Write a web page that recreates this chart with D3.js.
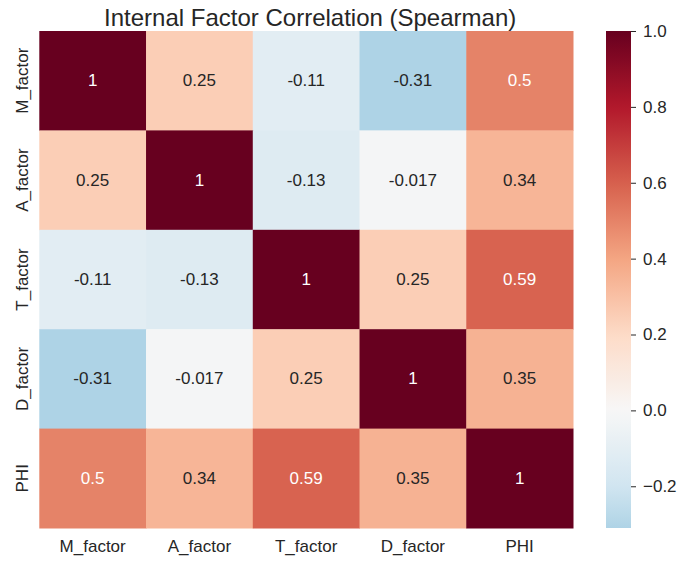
<!DOCTYPE html>
<html>
<head>
<meta charset="utf-8">
<script src="https://cdn.jsdelivr.net/npm/d3@7"></script>
<style>
  html, body { margin: 0; padding: 0; background: #fff; }
  svg { display: block; font-family: "Liberation Sans", Arial, sans-serif; }
</style>
</head>
<body>
<svg id="chart" width="678" height="561"></svg>
<script>
const labels = ["M_factor", "A_factor", "T_factor", "D_factor", "PHI"];
const rowM = [1, 0.25, -0.11, -0.31, 0.5];
const rowA = [0.25, 1, -0.13, -0.017, 0.34];
const rowT = [-0.11, -0.13, 1, 0.25, 0.59];
const rowD = [-0.31, -0.017, 0.25, 1, 0.35];
const rowP = [0.5, 0.34, 0.59, 0.35, 1];
const matrix = [rowM, rowA, rowT, rowD, rowP];
const cbarTicks = [-0.2, 0.0, 0.2, 0.4, 0.6, 0.8, 1.0];
const title = "Internal Factor Correlation (Spearman)";

// matplotlib RdBu (ColorBrewer 11), reversed
const rdbu = ["#67001f","#b2182b","#d6604d","#f4a582","#fddbc7","#f7f7f7","#d1e5f0","#92c5de","#4393c3","#2166ac","#053061"];
const rdbuR = rdbu.slice().reverse();
const cmap = d3.scaleLinear().domain(d3.range(11).map(i => i / 10)).range(rdbuR).interpolate(d3.interpolateRgb).clamp(true);

const flat = matrix.flat();
const vmin = d3.min(flat), vmax = d3.max(flat), center = 0;
const vrange = Math.max(vmax - center, center - vmin);
const color = v => cmap((v - (center - vrange)) / (2 * vrange));

const svg = d3.select("#chart");
const pLeft = 39.3, pRight = 573, pTop = 31, pBottom = 528;
const x = d3.scaleBand().domain(labels).range([pLeft, pRight]).padding(0);
const y = d3.scaleBand().domain(labels).range([pTop, pBottom]).padding(0);
const textColor = "#262626";

const cells = [];
matrix.forEach((row, i) => row.forEach((v, j) => cells.push({r: labels[i], c: labels[j], v})));

svg.append("g").selectAll("rect").data(cells).join("rect")
  .attr("x", d => x(d.c)).attr("y", d => y(d.r))
  .attr("width", x.bandwidth() + 0.5).attr("height", y.bandwidth() + 0.5)
  .attr("fill", d => color(d.v));

function lum(c) {
  const rgb = d3.rgb(c);
  const f = u => { u /= 255; return u <= 0.03928 ? u / 12.92 : Math.pow((u + 0.055) / 1.055, 2.4); };
  return 0.2126 * f(rgb.r) + 0.7152 * f(rgb.g) + 0.0722 * f(rgb.b);
}

svg.append("g").selectAll("text").data(cells).join("text")
  .attr("x", d => x(d.c) + x.bandwidth() / 2)
  .attr("y", d => y(d.r) + y.bandwidth() / 2)
  .attr("text-anchor", "middle").attr("dominant-baseline", "central")
  .attr("font-size", 17)
  .attr("fill", d => lum(color(d.v)) > 0.408 ? textColor : "#ffffff")
  .text(d => String(d.v));

const xAxis = svg.append("g");
labels.forEach(l => {
  xAxis.append("text")
    .attr("x", x(l) + x.bandwidth() / 2).attr("y", 552)
    .attr("text-anchor", "middle").attr("font-size", 17).attr("fill", textColor)
    .text(l);
});
const yAxis = svg.append("g");
labels.forEach(l => {
  const cyv = y(l) + y.bandwidth() / 2;
  yAxis.append("text")
    .attr("transform", `translate(28,${cyv}) rotate(-90)`)
    .attr("text-anchor", "middle").attr("font-size", 17).attr("fill", textColor)
    .text(l);
});

svg.append("text")
  .attr("x", (pLeft + pRight) / 2 + 4).attr("y", 26)
  .attr("text-anchor", "middle").attr("font-size", 24).attr("fill", textColor)
  .text(title);

const cbx = 606, cbw = 25;
const cScale = d3.scaleLinear().domain([vmin, vmax]).range([pBottom, pTop]);
const defs = svg.append("defs");
const grad = defs.append("linearGradient").attr("id", "cbgrad")
  .attr("x1", 0).attr("y1", 1).attr("x2", 0).attr("y2", 0);
d3.range(0, 1.0001, 0.02).forEach(t => {
  const v = vmin + t * (vmax - vmin);
  grad.append("stop").attr("offset", t).attr("stop-color", color(v));
});
svg.append("rect").attr("x", cbx).attr("y", pTop).attr("width", cbw).attr("height", pBottom - pTop)
  .attr("fill", "url(#cbgrad)");

const fmt = d3.format(".1f");
const cbAxis = d3.axisRight(cScale).tickValues(cbarTicks).tickSize(5).tickPadding(7)
  .tickFormat(d => fmt(d).replace("-", "\u2212"));
const ga = svg.append("g").attr("transform", `translate(${cbx + cbw},0)`).call(cbAxis);
ga.select(".domain").remove();
ga.selectAll(".tick line").attr("stroke", textColor).attr("stroke-width", 1);
ga.selectAll(".tick text").attr("font-size", 17).attr("fill", textColor)
  .attr("font-family", "Liberation Sans, Arial, sans-serif");
</script>
</body>
</html>
